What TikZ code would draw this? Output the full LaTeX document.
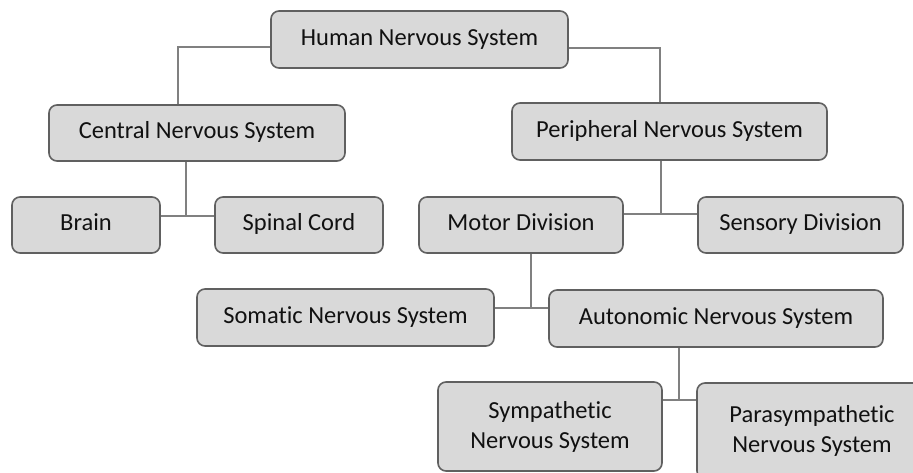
\documentclass[tikz,border=0pt]{standalone}
\usepackage{fontspec}
\setmainfont{Carlito}[Ligatures={NoCommon}]
\definecolor{boxfill}{HTML}{D9D9D9}
\definecolor{boxline}{HTML}{606060}
\definecolor{conn}{HTML}{808080}
\definecolor{txt}{HTML}{111111}
\begin{document}
\begin{tikzpicture}[x=1pt,y=-1pt,
  basebox/.style={draw=boxline, line width=1.6pt, fill=boxfill, rounded corners=8pt,
    inner sep=0pt, align=center, text=txt,
    font=\fontsize{24.5}{30}\selectfont},
  nbox/.style={basebox, text height=17pt, text depth=5.5pt},
  tbox/.style={basebox},
  link/.style={draw=conn, line width=2.6pt}]
\useasboundingbox (0,0) rectangle (913,472);
\clip (0,0) rectangle (913,472);
\fill[white] (0,0) rectangle (913,472);

\node[nbox, minimum width=297pt, minimum height=57pt] (hns) at (419.5,39.5) {Human Nervous System};
\node[nbox, minimum width=296pt, minimum height=56pt] (cns) at (197,133) {Central Nervous System};
\node[nbox, minimum width=315pt, minimum height=57pt] (pns) at (669.5,131.5) {Peripheral Nervous System};
\node[nbox, minimum width=148pt, minimum height=56pt] (brain) at (86,225) {Brain};
\node[nbox, minimum width=168pt, minimum height=56pt] (spinal) at (299,225) {Spinal Cord};
\node[nbox, minimum width=204pt, minimum height=56pt] (motor) at (521,225) {Motor Division};
\node[nbox, minimum width=205pt, minimum height=56pt] (sensory) at (800.5,225) {Sensory Division};
\node[nbox, minimum width=297pt, minimum height=57pt] (somatic) at (345.5,317.5) {Somatic Nervous System};
\node[nbox, minimum width=334pt, minimum height=57pt] (auto) at (716,318.5) {Autonomic Nervous System};
\node[tbox, minimum width=224pt, minimum height=89pt] (symp) at (550,426.5) {Sympathetic\\Nervous System};
\node[tbox, minimum width=230pt, minimum height=96pt] (para) at (812,431) {Parasympathetic\\Nervous System};

\coordinate (jL) at (178,47);
\coordinate (jR) at (660,48);
\coordinate (j1) at (186,216);
\coordinate (j2) at (661,214);
\coordinate (j3) at (531,308);
\coordinate (j4) at (679,400);

\draw[link] (hns.west |- jL) -- (jL) -- (cns.north -| jL);
\draw[link] (hns.east |- jR) -- (jR) -- (pns.north -| jR);
\draw[link] (cns.south -| j1) -- (j1);
\draw[link] (brain.east |- j1) -- (spinal.west |- j1);
\draw[link] (pns.south -| j2) -- (j2);
\draw[link] (motor.east |- j2) -- (sensory.west |- j2);
\draw[link] (motor.south -| j3) -- (j3);
\draw[link] (somatic.east |- j3) -- (auto.west |- j3);
\draw[link] (auto.south -| j4) -- (j4);
\draw[link] (symp.east |- j4) -- (para.west |- j4);
\end{tikzpicture}
\end{document}
